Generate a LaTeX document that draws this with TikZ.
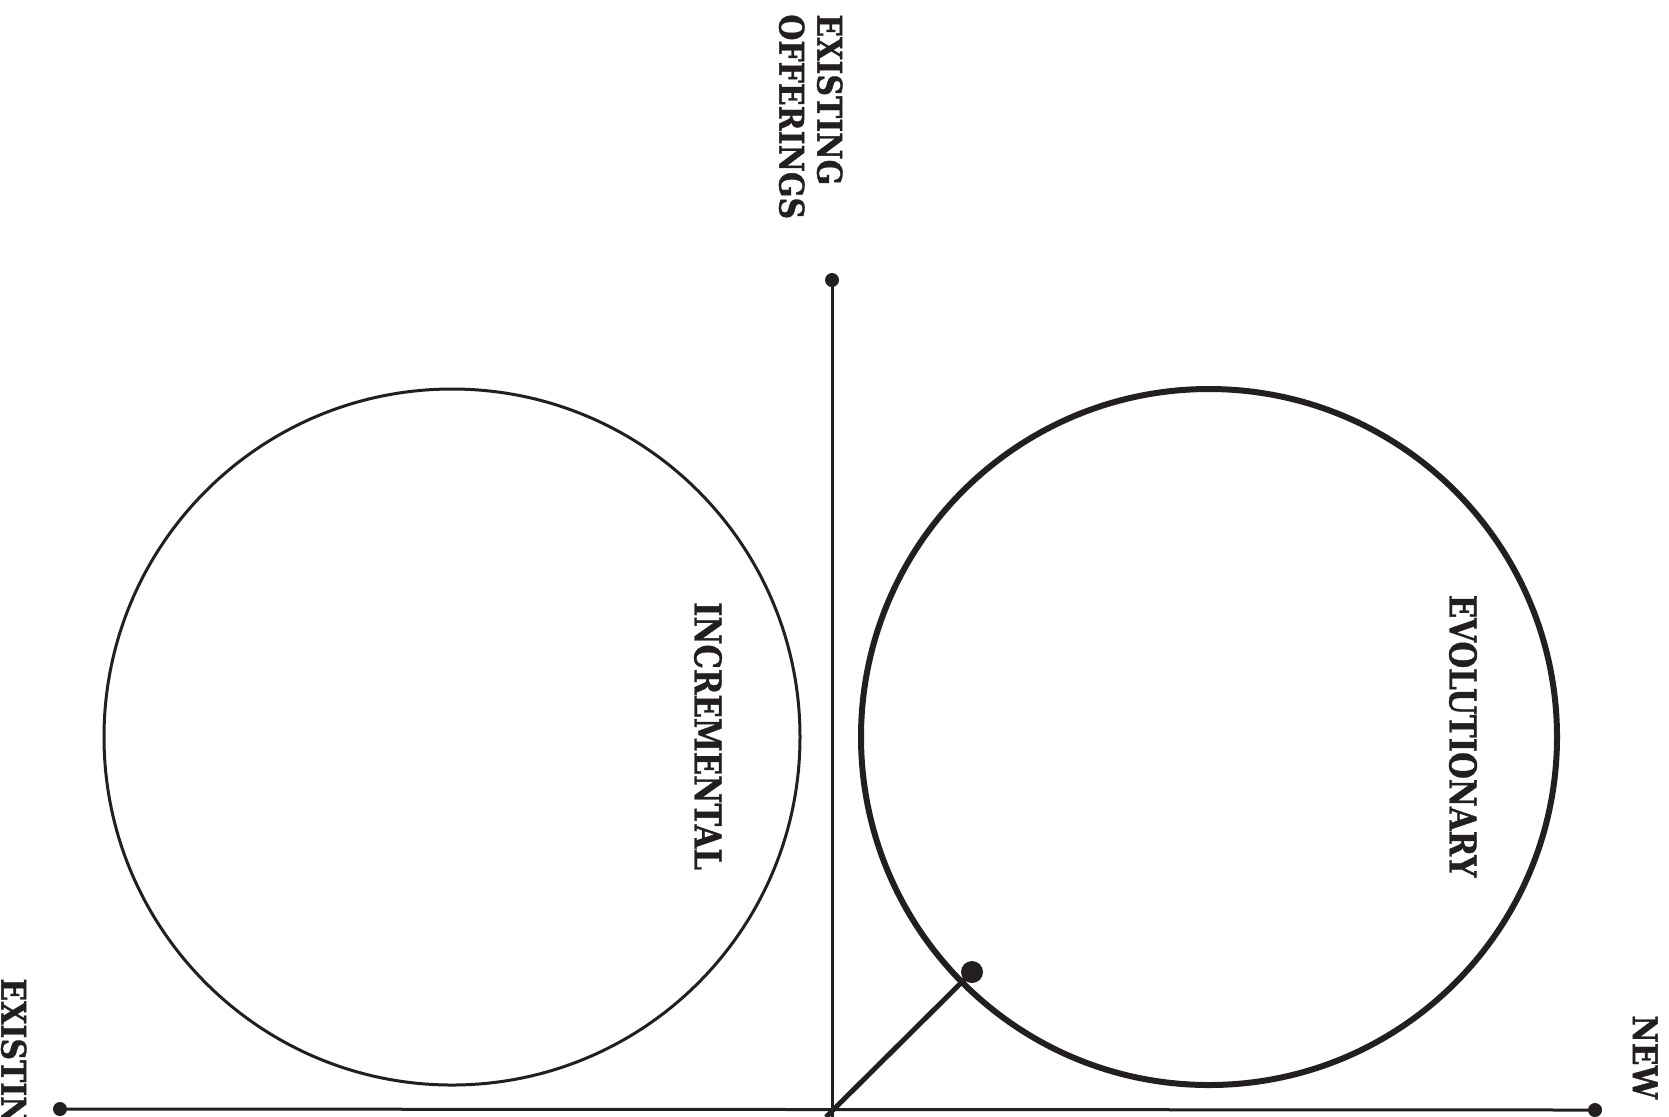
\documentclass[tikz,border=0pt]{standalone}
\usepackage{fontspec}
\setmainfont{DejaVu Serif}
\newfontfamily\axisfont[FakeStretch=0.88, FakeBold=1]{DejaVu Serif}
\newfontfamily\zonefont[FakeStretch=0.83, FakeBold=1]{DejaVu Serif}
\usetikzlibrary{positioning,calc}
\definecolor{inkdark}{RGB}{35,31,32}

\begin{document}
\begin{tikzpicture}[
  x=0.5pt, y=-0.5pt,
  axis/.style={draw=inkdark, line width=1.5pt},
  tipdot/.style={circle, fill=inkdark, inner sep=0pt, minimum size=7pt},
  ring/.style={circle, draw=inkdark, inner sep=0pt, minimum size=348pt, line width=1.5pt},
  axislab/.style={rotate=-90, font=\axisfont\bfseries\fontsize{17}{19}\selectfont, text=inkdark, inner sep=0pt, align=left},
  zonelab/.style={rotate=-90, font=\zonefont\bfseries\fontsize{18.5}{20}\selectfont, text=inkdark, inner sep=0pt},
]
\useasboundingbox (0,0) rectangle (1669,1116);
% ---- axes ----
\coordinate (origin) at (832,1111);
\coordinate (foot) at (832,1120);
\node[tipdot] (top) at (832,280) {};
\node[tipdot] (west) at (60,1109) {};
\node[tipdot] (east) at (1595,1110) {};
\draw[axis] (top.center) -- (foot);
\draw[axis] (west.center) -- (east.center);
% ---- the two zones ----
\node[ring] (incr) at (452,737) {};
\node[ring, line width=3pt] (evol) at (1209,737) {};
% pointer from the origin
\coordinate (tail) at (826,1117);
\node[tipdot, minimum size=11pt] (probe) at (972,972) {};
\draw[axis, line width=2.5pt] (tail) -- (probe.center);
% ---- labels ----
\node[axislab, anchor=north west] (offer) at (843,14) {EXISTING\\OFFERINGS};
\node[axislab, anchor=north west] (oldside) at (27,978) {EXISTING};
\node[axislab, anchor=north west] (newside) at (1658,1015) {NEW};
\node[zonelab] (incrlab) at (708,736) {INCREMENTAL};
\node[zonelab] (evollab) at (1463,736) {EVOLUTIONARY};
\end{tikzpicture}
\end{document}
